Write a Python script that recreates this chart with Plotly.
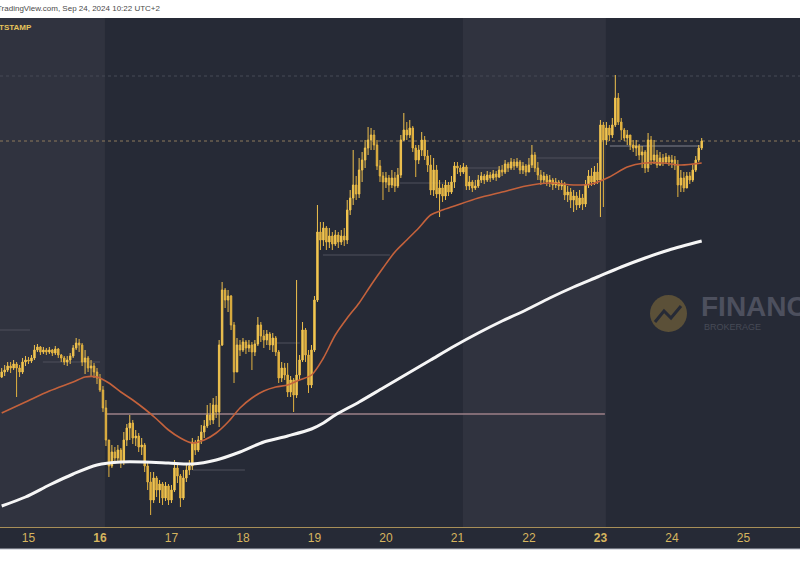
import pandas as pd
import plotly.graph_objects as go

# ---------------- data (hourly BTC/USD, Bitstamp) ----------------
start_time = "2024-09-14 15:00"
first_open = 59990

close = [60076, 60110, 60178, 60144, 60212, 60144, 60076, 60246, 60280, 60263,
         60314, 60450, 60501, 60416, 60450, 60416, 60450, 60399, 60467, 60365,
         60314, 60246, 60280, 60348, 60484, 60569, 60535, 60246, 60314, 60144,
         60178, 60076, 59974, 59770, 59464, 58920, 58478, 58716, 58614, 58750,
         58546, 58920, 59124, 59209, 58954, 58988, 58801, 58835, 58478, 58206,
         57900, 58274, 58070, 58172, 57934, 58138, 57900, 58070, 58444, 58308,
         57934, 58274, 58410, 58478, 58886, 58750, 58920, 59056, 59158, 59345,
         59260, 59515, 59396, 60535, 61470, 61300, 61368, 60875, 60076, 60535,
         60450, 60586, 60484, 60535, 60416, 60552, 60875, 60688, 60620, 60722,
         60535, 60654, 60416, 59974, 60144, 60025, 59736, 59940, 59685, 60025,
         60280, 60790, 60365, 59855, 60450, 61300, 62456, 62320, 62524, 62286,
         62388, 62252, 62405, 62286, 62388, 62320, 62830, 63034, 63255, 63102,
         63510, 63680, 63884, 64020, 64105, 63935, 63578, 63408, 63306, 63374,
         63255, 63374, 63238, 63425, 64020, 64190, 64105, 64224, 63884, 63680,
         63850, 64020, 63748, 63595, 63170, 63510, 63102, 63204, 63068, 63255,
         63136, 63306, 63578, 63544, 63476, 63561, 63238, 63306, 63204, 63238,
         63340, 63408, 63340, 63425, 63374, 63442, 63391, 63510, 63476, 63612,
         63544, 63646, 63578, 63646, 63510, 63578, 63476, 63595, 63765, 63544,
         63425, 63340, 63408, 63306, 63340, 63255, 63306, 63238, 63272, 63085,
         63136, 63000, 63068, 62915, 63034, 62932, 63255, 63408, 63306, 63476,
         63340, 64275, 64020, 64224, 64105, 64275, 64734, 64326, 64190, 64054,
         64105, 63935, 63884, 63918, 63765, 63816, 63544, 64020, 63680, 63765,
         63595, 63714, 63646, 63731, 63646, 63680, 63595, 63255, 63374, 63204,
         63408, 63340, 63510, 63680, 63884, 64003]

high = [60144, 60195, 60246, 60246, 60280, 60246, 60195, 60314, 60348, 60331,
        60365, 60535, 60552, 60518, 60501, 60484, 60501, 60467, 60518, 60484,
        60382, 60348, 60348, 60399, 60535, 60654, 60637, 60569, 60450, 60348,
        60280, 60229, 60144, 60042, 59838, 59600, 58920, 58835, 58801, 58835,
        58784, 59056, 59192, 59345, 59260, 59090, 59039, 58954, 58869, 58546,
        58376, 58376, 58308, 58240, 58206, 58206, 58172, 58155, 58580, 58529,
        58342, 58410, 58495, 58580, 58954, 58920, 58988, 59175, 59260, 59515,
        59549, 59634, 59668, 60620, 61606, 61504, 61470, 61385, 60926, 60654,
        60620, 60654, 60620, 60620, 60586, 60620, 61011, 60926, 60790, 60790,
        60756, 60739, 60688, 60450, 60246, 60229, 60229, 60008, 59974, 61640,
        60365, 60926, 60824, 60450, 60535, 61368, 62915, 62626, 62626, 62558,
        62524, 62456, 62490, 62456, 62490, 62524, 63000, 63170, 63850, 63408,
        63714, 63816, 64020, 64241, 64224, 64190, 64020, 63680, 63476, 63476,
        63425, 63510, 63476, 63544, 64105, 64479, 64326, 64360, 64258, 63935,
        63935, 64156, 64088, 63850, 63765, 63714, 63595, 63340, 63272, 63340,
        63306, 63408, 63646, 63646, 63595, 63629, 63595, 63408, 63340, 63340,
        63425, 63476, 63442, 63493, 63476, 63510, 63493, 63578, 63595, 63680,
        63646, 63714, 63697, 63714, 63680, 63646, 63612, 63714, 63935, 63816,
        63646, 63510, 63476, 63442, 63425, 63374, 63374, 63340, 63340, 63306,
        63238, 63204, 63170, 63136, 63170, 63102, 63340, 63510, 63544, 63578,
        63629, 64360, 64326, 64326, 64275, 64394, 65125, 64819, 64394, 64224,
        64190, 64105, 64020, 64020, 63952, 63918, 63850, 64139, 64088, 64020,
        63850, 63816, 63782, 63799, 63765, 63765, 63748, 63680, 63510, 63476,
        63476, 63476, 63595, 63748, 63935, 64054]

low = [59974, 60008, 60076, 60059, 60110, 59651, 59991, 60042, 60178, 60212,
       60229, 60280, 60416, 60365, 60382, 60365, 60382, 60348, 60365, 60314,
       60246, 60195, 60178, 60212, 60314, 60450, 60416, 60178, 60042, 60076,
       60008, 59974, 59872, 59736, 59396, 58818, 58291, 58444, 58512, 58546,
       58444, 58495, 58818, 58920, 58852, 58818, 58716, 58665, 58376, 58070,
       57645, 57849, 57951, 57849, 57815, 57883, 57815, 57849, 58036, 58189,
       57781, 57900, 58206, 58325, 58410, 58665, 58716, 58852, 58954, 59124,
       59175, 59192, 59294, 59141, 60518, 61164, 61096, 60790, 59889, 60280,
       60348, 60416, 60382, 60416, 60110, 60348, 60518, 60586, 60484, 60535,
       60450, 60416, 60348, 59889, 59906, 59940, 59651, 59651, 59396, 59634,
       59940, 60246, 60246, 59719, 59804, 60416, 61266, 62150, 62218, 62150,
       62184, 62150, 62218, 62184, 62235, 62218, 62252, 62745, 62915, 63000,
       63034, 63306, 63544, 63765, 63850, 63850, 63510, 63306, 63000, 63204,
       63136, 63204, 63136, 63204, 63374, 64003, 64020, 64054, 63816, 63391,
       63612, 63748, 63680, 63476, 63085, 63068, 63034, 62711, 62966, 63000,
       63068, 63102, 63204, 63442, 63408, 63442, 63170, 63170, 63136, 63170,
       63204, 63289, 63272, 63306, 63306, 63340, 63323, 63374, 63408, 63442,
       63476, 63510, 63510, 63544, 63442, 63442, 63408, 63476, 63544, 63476,
       63340, 63255, 63289, 63238, 63221, 63170, 63204, 63170, 63170, 63000,
       62966, 62864, 62796, 62830, 62864, 62830, 62881, 63204, 63238, 63255,
       63272, 62711, 62881, 63935, 64003, 64054, 64241, 64275, 64020, 64003,
       63935, 63850, 63816, 63748, 63680, 63544, 63459, 63476, 63595, 63612,
       63544, 63578, 63578, 63629, 63578, 63544, 63510, 63051, 63136, 63136,
       63238, 63272, 63306, 63476, 63646, 63850]

# moving averages, sampled at candle indices
ma50_idx = [0, 8, 16, 24, 28, 32, 36, 40, 44, 48, 52, 56, 60, 64, 68, 72, 76, 80,
            84, 88, 92, 96, 100, 104, 108, 112, 116, 120, 124, 128, 132, 136, 140,
            144, 148, 152, 160, 168, 176, 184, 192, 198, 204, 210, 216, 222, 228, 235]
ma50_val = [59379, 59566, 59753, 59906, 59991, 59991, 59889, 59736, 59600, 59447,
            59277, 59090, 58954, 58869, 58920, 59039, 59226, 59464, 59634, 59753,
            59821, 59855, 59940, 60025, 60314, 60705, 60994, 61249, 61555, 61844,
            62116, 62320, 62524, 62745, 62830, 62898, 63034, 63136, 63238, 63289,
            63255, 63272, 63391, 63561, 63629, 63629, 63595, 63629]

ma200_idx = [0, 8, 16, 24, 32, 40, 48, 56, 64, 72, 80, 88, 96, 104, 108, 112, 120,
             128, 136, 144, 152, 160, 168, 176, 184, 192, 200, 208, 216, 224, 235]
ma200_val = [57798, 57951, 58155, 58342, 58495, 58546, 58546, 58529, 58512, 58580,
             58716, 58886, 58988, 59107, 59209, 59345, 59566, 59804, 60042, 60280,
             60518, 60739, 60943, 61130, 61334, 61521, 61691, 61861, 62014, 62150,
             62303]

day_ticks = ["2024-09-%02d" % d for d in range(15, 26)]
day_labels = ["15", "<b>16</b>", "17", "18", "19", "20", "21", "22", "<b>23</b>", "24", "25"]

# horizontal reference levels: (price, start, end, color, dash, width)
levels = [
    (65108, "2024-09-14 14:26", "2024-09-25 19:00", "#474a56", "dot", 1),
    (64003, "2024-09-14 14:26", "2024-09-25 19:00", "#8d7b5c", "dot", 1),
    (59362, "2024-09-16 01:40", "2024-09-23 01:30", "#9c8088", "solid", 1.5),
    (63918, "2024-09-23 03:10", "2024-09-24 09:30", "#7f808c", "solid", 1),
    (63714, "2024-09-22 02:40", "2024-09-23 00:00", "#4e515d", "solid", 1),
    (62065, "2024-09-19 02:50", "2024-09-20 01:20", "#4e515d", "solid", 1),
    (63289, "2024-09-20 04:40", "2024-09-20 21:30", "#4e515d", "solid", 1),
    (63544, "2024-09-21 01:50", "2024-09-21 14:20", "#4e515d", "solid", 1),
    (60569, "2024-09-18 10:45", "2024-09-18 19:05", "#4e515d", "solid", 1),
    (58410, "2024-09-17 07:10", "2024-09-18 00:40", "#4e515d", "solid", 1),
    (60790, "2024-09-14 14:26", "2024-09-15 00:30", "#4e515d", "solid", 1),
    (60246, "2024-09-15 04:50", "2024-09-16 00:00", "#4e515d", "solid", 1),
]

weekend_bands = [("2024-09-14 14:26", "2024-09-16 01:40"),
                 ("2024-09-21 01:50", "2024-09-23 01:50")]

x_range = ["2024-09-14 14:26", "2024-09-25 19:00"]
y_range = [57441, 66094]

# ---------------- figure ----------------
times = pd.date_range(start_time, periods=len(close), freq="h")
opens = [first_open] + close[:-1]

W, H = 800, 576
top_px, bottom_px = 18, 527
plot_h = bottom_px - top_px

BG = "#262a36"
BAND = "#30333f"
GOLD = "#f0c24e"


def px(x):
    return x / W


def py(y):
    return (bottom_px - y) / plot_h


fig = go.Figure()

fig.add_trace(go.Candlestick(
    x=times, open=opens, high=high, low=low, close=close,
    increasing=dict(line=dict(color=GOLD, width=1), fillcolor="#f3cb55"),
    decreasing=dict(line=dict(color="#e2b240", width=1), fillcolor="#e2b240"),
    whiskerwidth=0, showlegend=False, hoverinfo="skip",
))

fig.add_trace(go.Scatter(
    x=[times[i] for i in ma50_idx], y=ma50_val, mode="lines",
    line=dict(color="#c4623c", width=1.6, shape="spline", smoothing=0.8),
    showlegend=False, hoverinfo="skip",
))
fig.add_trace(go.Scatter(
    x=[times[i] for i in ma200_idx], y=ma200_val, mode="lines",
    line=dict(color="#f6f6f6", width=3, shape="spline", smoothing=0.8),
    showlegend=False, hoverinfo="skip",
))

shapes = []
for x0, x1 in weekend_bands:
    shapes.append(dict(type="rect", xref="x", yref="paper", x0=x0, x1=x1,
                       y0=0, y1=1, fillcolor=BAND, line=dict(width=0), layer="below"))
for price, s, e, col, dash, w in levels:
    shapes.append(dict(type="line", xref="x", yref="y", x0=s, x1=e, y0=price, y1=price,
                       line=dict(color=col, width=w, dash=dash), layer="below"))

# white strips (top header and bottom)
shapes.append(dict(type="rect", xref="paper", yref="paper", x0=0, x1=1,
                   y0=py(top_px), y1=py(-2), fillcolor="white", line=dict(width=0),
                   layer="above"))
shapes.append(dict(type="rect", xref="paper", yref="paper", x0=0, x1=1,
                   y0=py(580), y1=py(549), fillcolor="white", line=dict(width=0),
                   layer="above"))
shapes.append(dict(type="line", xref="paper", yref="paper", x0=0, x1=1,
                   y0=py(549), y1=py(549), line=dict(color="#b8bcc6", width=1),
                   layer="above"))

# watermark logo
shapes.append(dict(type="circle", xref="paper", yref="paper",
                   x0=px(650), x1=px(687), y0=py(332), y1=py(295),
                   fillcolor="#5b5038", line=dict(width=0), layer="below"))
zig = [(655, 322), (664, 311), (671, 318), (681, 306)]
path = "M " + " L ".join("%f,%f" % (px(a), py(b)) for a, b in zig)
shapes.append(dict(type="path", xref="paper", yref="paper", path=path,
                   line=dict(color="#262a36", width=3), layer="below"))

annotations = [
    dict(text="TradingView.com, Sep 24, 2024 10:22 UTC+2", xref="paper", yref="paper",
         x=px(-5), y=py(9), xanchor="left", yanchor="middle", showarrow=False,
         font=dict(family="Liberation Sans, Arial, sans-serif", size=8, color="#4a4a4a")),
    dict(text="<b>BITSTAMP</b>", xref="paper", yref="paper",
         x=px(-11), y=py(28), xanchor="left", yanchor="middle", showarrow=False,
         font=dict(family="Liberation Sans Narrow, Liberation Sans, sans-serif", size=8, color="#e6c35a")),
    dict(text="<b>FINANCE</b>", xref="paper", yref="paper",
         x=px(699), y=py(306), xanchor="left", yanchor="middle", showarrow=False,
         font=dict(family="Liberation Sans, Arial, sans-serif", size=28, color="#4d505e")),
    dict(text="BROKERAGE", xref="paper", yref="paper",
         x=px(702), y=py(327), xanchor="left", yanchor="middle", showarrow=False,
         font=dict(family="Liberation Sans, Arial, sans-serif", size=9, color="#474a57")),
]

fig.update_layout(
    width=W, height=H, autosize=False,
    margin=dict(l=0, r=0, t=top_px, b=H - bottom_px, pad=0),
    paper_bgcolor=BG, plot_bgcolor=BG,
    shapes=shapes, annotations=annotations,
    xaxis=dict(type="date", range=x_range, tickvals=day_ticks, ticktext=day_labels,
               showgrid=False, zeroline=False, showline=True, linecolor="#a88f58", linewidth=1,
               ticks="", tickfont=dict(family="Liberation Sans Narrow, Liberation Sans, sans-serif",
                                       size=12, color="#d6b55e"),
               rangeslider=dict(visible=False), fixedrange=True),
    yaxis=dict(range=y_range, showgrid=False, zeroline=False, showticklabels=False,
               showline=False, fixedrange=True),
    hovermode=False,
)

fig.write_html("out.html", config={"displayModeBar": False},
               post_script="document.body.style.margin='0';document.body.style.overflow='hidden';")
